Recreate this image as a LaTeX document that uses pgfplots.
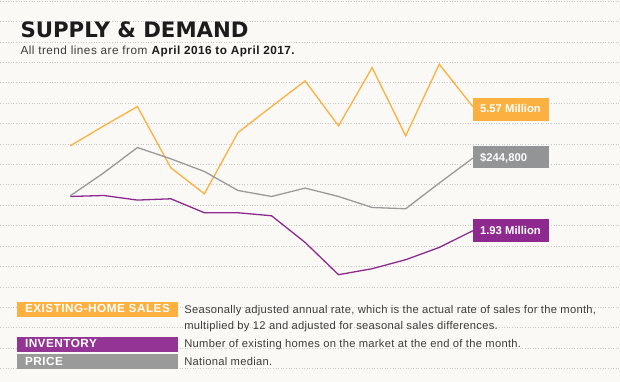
\documentclass[border=0pt]{standalone}
\usepackage{pgfplots}
\pgfplotsset{compat=1.18}
\usepackage{fontspec}
\setmainfont{Liberation Sans}
\newfontfamily\titlefont{DejaVu Sans}
\newfontfamily\bodyfont[LetterSpace=2.5]{Liberation Sans}
\newfontfamily\labfont[LetterSpace=4]{Liberation Sans}
\definecolor{bg}{HTML}{FAF9F5}
\definecolor{gridc}{HTML}{C8C8C8}
\definecolor{orng}{HTML}{FBB03F}
\definecolor{purp}{HTML}{8E2A8F}
\definecolor{gry}{HTML}{939496}
\definecolor{lgry}{HTML}{9A9A9A}
\definecolor{txt}{HTML}{3C3C3C}
\definecolor{ttl}{HTML}{1C1C1C}
\pgfplotstableread{
x y
70.0 146
103.6 126
137.2 106.7
170.7 168
204.3 194
237.9 132.7
271.5 106.7
305.1 81
338.6 126
372.2 67.7
405.8 136
439.4 64.3
473.0 106.7
}\sales
\pgfplotstableread{
x y
70.0 196
103.6 173
137.2 147.7
170.7 159
204.3 171.7
237.9 190.7
271.5 196.7
305.1 188.3
338.6 196.7
372.2 207.7
405.8 209
439.4 183.3
473.0 158.3
}\price
\pgfplotstableread{
x y
70.0 196.7
103.6 195.7
137.2 200.3
170.7 199
204.3 213
237.9 213
271.5 216
305.1 242.7
338.6 275
372.2 269
405.8 260
439.4 247.7
473.0 231
}\inventory
\begin{document}
\begin{tikzpicture}
\begin{axis}[
  width=620bp, height=382bp, scale only axis,
  xmin=0, xmax=620, ymin=0, ymax=382, y dir=reverse,
  hide axis, clip=false,
  at={(0,0)}, anchor=south west,
]
\fill[bg] (axis cs:0,0) rectangle (axis cs:620,382);
\pgfplotsinvokeforeach{0,...,18}{
  \draw[gridc, line width=0.7bp, dash pattern=on 1bp off 1.6bp] (axis cs:0,{1+20.45*#1}) -- (axis cs:620,{1+20.45*#1});
}
\addplot[orng, line width=1.3bp, no markers] table[x=x,y=y] {\sales};
\addplot[lgry, line width=1.3bp, no markers] table[x=x,y=y] {\price};
\addplot[purp, line width=1.3bp, no markers] table[x=x,y=y] {\inventory};
% value labels
\fill[orng] (axis cs:473,98) rectangle (axis cs:549,121);
\fill[gry] (axis cs:473,146) rectangle (axis cs:549,168);
\fill[purp] (axis cs:473,219) rectangle (axis cs:549,242);
\node[anchor=base west, inner sep=0, text=white, font=\fontsize{11.3bp}{13bp}\selectfont\bfseries] at (axis cs:480,112.7) {5.57 Million};
\node[anchor=base west, inner sep=0, text=white, font=\fontsize{11.3bp}{13bp}\selectfont\bfseries] at (axis cs:480,161.5) {\$244,800};
\node[anchor=base west, inner sep=0, text=white, font=\fontsize{11.3bp}{13bp}\selectfont\bfseries] at (axis cs:480,235) {1.93 Million};
% title
\node[anchor=base west, inner sep=0, text=ttl, font=\fontsize{21.3bp}{24bp}\titlefont\bfseries] at (axis cs:20,37.3) {SUPPLY \& DEMAND};
\node[anchor=base west, inner sep=0, text=txt, font=\fontsize{11.8bp}{14bp}\labfont] at (axis cs:20,55) {All trend lines are from \textbf{\color{ttl}April 2016 to April 2017.}};
% legend
\fill[orng] (axis cs:17,302) rectangle (axis cs:178,317);
\fill[purp!95!white] (axis cs:17,337) rectangle (axis cs:178,352.3);
\fill[lgry] (axis cs:17,354) rectangle (axis cs:178,369.5);
\node[anchor=base west, inner sep=0, text=white, font=\fontsize{11.8bp}{13bp}\labfont\bfseries] at (axis cs:24.5,313.3) {EXISTING-HOME SALES};
\node[anchor=base west, inner sep=0, text=white, font=\fontsize{11.8bp}{13bp}\labfont\bfseries] at (axis cs:24.5,348.3) {INVENTORY};
\node[anchor=base west, inner sep=0, text=white, font=\fontsize{11.8bp}{13bp}\labfont\bfseries] at (axis cs:24.5,366) {PRICE};
\node[anchor=base west, inner sep=0, text=txt, font=\fontsize{11.2bp}{13bp}\bodyfont] at (axis cs:184,314.3) {Seasonally adjusted annual rate, which is the actual rate of sales for the month,};
\node[anchor=base west, inner sep=0, text=txt, font=\fontsize{11.2bp}{13bp}\bodyfont] at (axis cs:184,330) {multiplied by 12 and adjusted for seasonal sales differences.};
\node[anchor=base west, inner sep=0, text=txt, font=\fontsize{11.2bp}{13bp}\bodyfont] at (axis cs:184,348) {Number of existing homes on the market at the end of the month.};
\node[anchor=base west, inner sep=0, text=txt, font=\fontsize{11.2bp}{13bp}\bodyfont] at (axis cs:184,366) {National median.};
\end{axis}
\end{tikzpicture}
\end{document}
